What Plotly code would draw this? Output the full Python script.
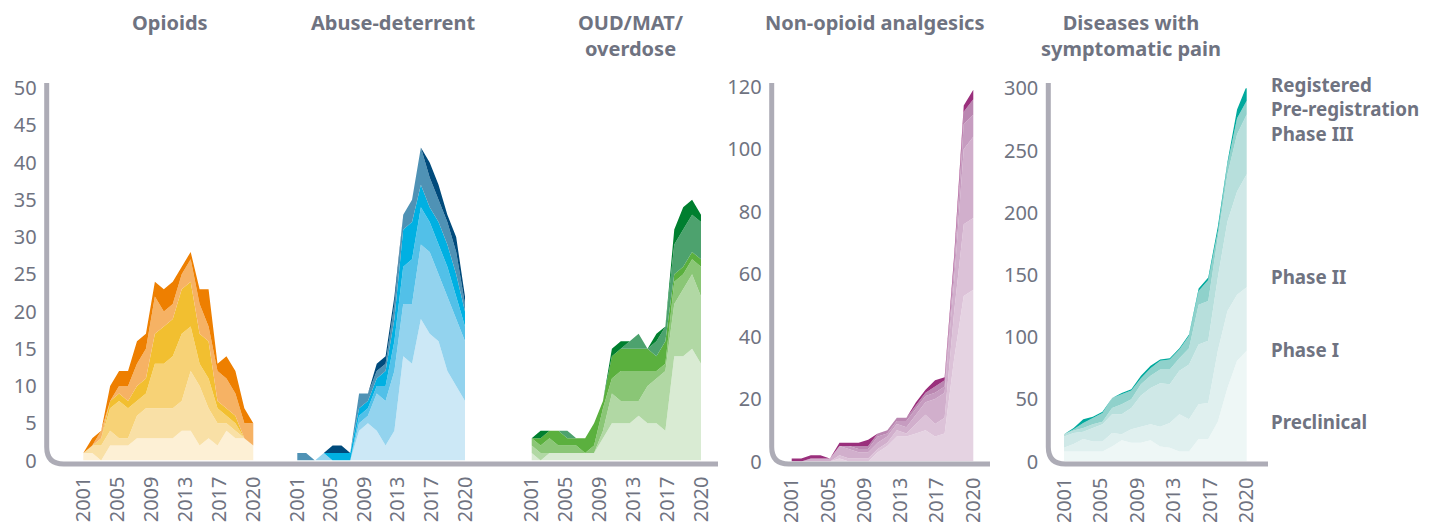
import plotly.graph_objects as go

years = list(range(2001, 2021))
year_labels = ["2001", "2005", "2009", "2013", "2017", "2020"]
stages = ["Preclinical", "Phase I", "Phase II", "Phase III", "Pre-registration", "Registered"]

# stage counts per year, bottom layer first
opioids = {
    "Preclinical": [1, 1, 0, 2, 2, 2, 3, 3, 3, 3, 3, 4, 4, 2, 3, 2, 4, 3, 3, 2],
    "Phase I": [0, 1, 2, 2, 1, 1, 3, 4, 4, 4, 4, 4, 8, 8, 4, 3, 1, 1, 0, 0],
    "Phase II": [0, 0, 1, 3, 5, 4, 2, 2, 6, 6, 7, 9, 6, 3, 4, 2, 1, 1, 0, 0],
    "Phase III": [0, 0, 0, 1, 1, 1, 2, 2, 4, 5, 5, 6, 6, 4, 5, 1, 1, 1, 0, 0],
    "Pre-registration": [0, 0, 1, 0, 1, 2, 3, 4, 5, 2, 2, 2, 3, 4, 2, 4, 4, 3, 2, 3],
    "Registered": [0, 1, 0, 2, 2, 2, 3, 2, 2, 3, 3, 1, 1, 2, 5, 1, 3, 3, 2, 0],
}
abuse_deterrent = {
    "Preclinical": [0, 0, 0, 0, 0, 0, 0, 4, 5, 4, 2, 4, 14, 13, 19, 17, 16, 12, 10, 8],
    "Phase I": [0, 0, 0, 1, 0, 0, 0, 1, 1, 5, 6, 8, 7, 8, 10, 11, 9, 10, 9, 8],
    "Phase II": [0, 0, 0, 0, 0, 0, 0, 1, 1, 1, 2, 4, 5, 6, 5, 4, 4, 4, 3, 2],
    "Phase III": [0, 0, 0, 0, 1, 1, 1, 1, 1, 1, 2, 3, 5, 5, 3, 2, 3, 3, 3, 2],
    "Pre-registration": [1, 1, 0, 0, 0, 0, 0, 2, 1, 1, 1, 2, 2, 3, 5, 4, 3, 3, 3, 1],
    "Registered": [0, 0, 0, 0, 1, 1, 0, 0, 0, 1, 1, 1, 0, 0, 0, 2, 2, 1, 2, 1],
}
oud_overdose = {
    "Preclinical": [1, 0, 1, 1, 1, 1, 1, 1, 3, 5, 5, 5, 6, 5, 5, 4, 14, 14, 15, 13],
    "Phase I": [1, 1, 0, 0, 0, 0, 0, 0, 1, 4, 3, 3, 2, 5, 6, 8, 7, 9, 10, 9],
    "Phase II": [1, 1, 2, 1, 1, 1, 0, 1, 3, 2, 4, 4, 4, 2, 1, 1, 3, 2, 2, 4],
    "Phase III": [0, 1, 1, 2, 1, 1, 2, 3, 1, 3, 3, 3, 3, 3, 2, 3, 1, 1, 1, 1],
    "Pre-registration": [0, 0, 0, 0, 1, 0, 0, 0, 0, 0, 0, 1, 2, 0, 2, 2, 4, 5, 5, 5],
    "Registered": [0, 1, 0, 0, 0, 0, 0, 0, 0, 1, 1, 0, 0, 0, 1, 0, 2, 3, 2, 1],
}
non_opioid = {
    "Preclinical": [0, 0, 0, 0, 0, 1, 0, 0, 0, 3, 5, 8, 8, 9, 10, 8, 9, 33, 53, 55],
    "Phase I": [0, 0, 0, 0, 0, 1, 1, 1, 1, 1, 1, 2, 1, 3, 5, 4, 5, 15, 23, 23],
    "Phase II": [0, 0, 1, 1, 1, 3, 3, 2, 2, 2, 2, 2, 2, 3, 4, 8, 8, 10, 24, 26],
    "Phase III": [0, 0, 0, 0, 0, 0, 1, 1, 1, 2, 1, 1, 2, 2, 2, 2, 2, 4, 8, 7],
    "Pre-registration": [0, 0, 0, 0, 0, 0, 0, 1, 1, 1, 1, 1, 1, 1, 1, 2, 2, 2, 4, 5],
    "Registered": [1, 1, 1, 1, 0, 1, 1, 1, 2, 0, 0, 0, 0, 1, 1, 2, 1, 2, 2, 3],
}
symptomatic_pain = {
    "Preclinical": [8, 8, 8, 8, 8, 12, 17, 15, 15, 17, 12, 11, 8, 8, 18, 18, 32, 59, 81, 89],
    "Phase I": [3, 6, 10, 8, 8, 11, 5, 11, 13, 13, 16, 20, 30, 26, 28, 29, 57, 62, 53, 51],
    "Phase II": [9, 9, 6, 11, 14, 15, 16, 17, 25, 29, 35, 31, 35, 44, 48, 50, 59, 72, 83, 91],
    "Phase III": [2, 2, 3, 3, 2, 5, 8, 7, 9, 10, 11, 12, 10, 13, 32, 32, 32, 38, 46, 48],
    "Pre-registration": [0, 1, 4, 5, 7, 8, 8, 7, 5, 6, 7, 8, 7, 10, 11, 17, 5, 8, 13, 11],
    "Registered": [0, 1, 3, 1, 1, 0, 1, 1, 2, 2, 1, 1, 1, 1, 2, 2, 4, 2, 7, 12],
}

# page body adds an 8px margin, so the figure is drawn 8px in
PAGE_MARGIN = 8
W, H = 1430 - PAGE_MARGIN, 522 - PAGE_MARGIN
GREY = "#6f7381"
AXIS_GREY = "#adacb6"
FONT = "Noto Sans"


def px(x):
    # window pixel -> paper fraction
    return (x - PAGE_MARGIN) / W


def py(y):
    return 1 - (y - PAGE_MARGIN) / H


# year labels are spread evenly over the span, as in the source chart
span = years[-1] - years[0]
label_pos = [years[0] + span * k / (len(year_labels) - 1) for k in range(len(year_labels))]

# panel: data, colours, x axis, y axis, domain px, px of 2001 and 2020
panels = [
    (opioids, ["#fdf0d5", "#f9e0a6", "#f7d276", "#f2bf30", "#f6b264", "#ee7f00"], "x", "y", (46.7, 268), (83.3, 253.3)),
    (abuse_deterrent, ["#cce8f6", "#93d3ee", "#52c0e8", "#00b0e2", "#4f92b5", "#004b7c"], "x2", "y", (282, 482), (297.3, 465)),
    (oud_overdose, ["#d9ebd3", "#b1d8a4", "#8ac676", "#5bb03e", "#4da26e", "#007f2f"], "x3", "y", (516, 716), (531.7, 701)),
    (non_opioid, ["#e5d3e2", "#dcc2d8", "#d1afcc", "#c69cc0", "#ba87b1", "#9a2f7c"], "x4", "y4", (771.7, 990), (791.7, 973.3)),
    (symptomatic_pain, ["#eef7f6", "#e0f0ef", "#cfe8e7", "#b7dfdc", "#8fd1cb", "#00a99d"], "x5", "y5", (1048.3, 1268), (1064, 1246.7)),
]

fig = go.Figure()
layout = {}
for i, (data, colors, xa, ya, dom, ends) in enumerate(panels):
    for stage, color in zip(stages, colors):
        fig.add_trace(go.Scatter(
            x=years, y=data[stage], xaxis=xa, yaxis=ya,
            stackgroup="g%d" % i, mode="lines",
            line=dict(width=0, color=color), fillcolor=color,
            name=stage, showlegend=False, hoverinfo="skip"))
    step = (ends[1] - ends[0]) / span
    r0 = years[0] - (ends[0] - dom[0]) / step
    r1 = years[0] + (dom[1] - ends[0]) / step
    key = "xaxis" if xa == "x" else "xaxis" + xa[1:]
    layout[key] = dict(
        domain=[px(dom[0]), px(dom[1])], range=[r0, r1], anchor=ya,
        tickvals=label_pos, ticktext=year_labels, tickangle=-90,
        showgrid=False, zeroline=False, showline=False, ticks="", automargin=False,
        ticklabelstandoff=11, tickfont=dict(family=FONT, size=20, color=GREY))

y_common = dict(showgrid=False, zeroline=False, showline=False, ticks="", automargin=False,
                ticklabelstandoff=9, tickfont=dict(family=FONT, size=20, color=GREY))
layout["yaxis"] = dict(domain=[py(460.5), py(88)], range=[0, 50], dtick=5, anchor="x", **y_common)
layout["yaxis4"] = dict(domain=[py(461.5), py(86.7)], range=[0, 120], dtick=20, anchor="x4", **y_common)
layout["yaxis5"] = dict(domain=[py(461.5), py(88.3)], range=[0, 300], dtick=50, anchor="x5", **y_common)


def axis_path(x0, x1, top=83, base=464, r=17):
    return "M %f,%f L %f,%f Q %f,%f %f,%f L %f,%f" % (
        px(x0), py(top), px(x0), py(base - r), px(x0), py(base),
        px(x0 + r), py(base), px(x1), py(base))


shapes = [
    dict(type="path", xref="paper", yref="paper", path=axis_path(46.7, 718),
         line=dict(color=AXIS_GREY, width=5)),
    dict(type="path", xref="paper", yref="paper", path=axis_path(771.7, 990),
         line=dict(color=AXIS_GREY, width=5)),
    dict(type="path", xref="paper", yref="paper", path=axis_path(1048.3, 1268),
         line=dict(color=AXIS_GREY, width=5)),
]

titles = [
    ("Opioids", 170, 22),
    ("Abuse-deterrent", 393, 22),
    ("OUD/MAT/<br>overdose", 631, 35),
    ("Non-opioid analgesics", 874, 22),
    ("Diseases with<br>symptomatic pain", 1131, 35),
]
annotations = []
for text, x, y in titles:
    annotations.append(dict(
        text="<b>%s</b>" % text, x=px(x), y=py(y), xref="paper", yref="paper",
        xanchor="center", yanchor="middle", showarrow=False, align="center",
        font=dict(family=FONT, size=20, color=GREY)))

stage_labels = [("Registered<br>Pre-registration<br>Phase III", 110),
                ("Phase II", 277), ("Phase I", 350), ("Preclinical", 422)]
for text, y in stage_labels:
    annotations.append(dict(
        text="<b>%s</b>" % text, x=px(1269), y=py(y), xref="paper", yref="paper",
        xanchor="left", yanchor="middle", showarrow=False, align="left",
        font=dict(family=FONT, size=18.8, color=GREY)))

fig.update_layout(
    width=W, height=H, autosize=False,
    margin=dict(l=0, r=0, t=0, b=0),
    paper_bgcolor="white", plot_bgcolor="rgba(0,0,0,0)",
    showlegend=False, shapes=shapes, annotations=annotations,
    **layout)

fig.write_html("out.html")
